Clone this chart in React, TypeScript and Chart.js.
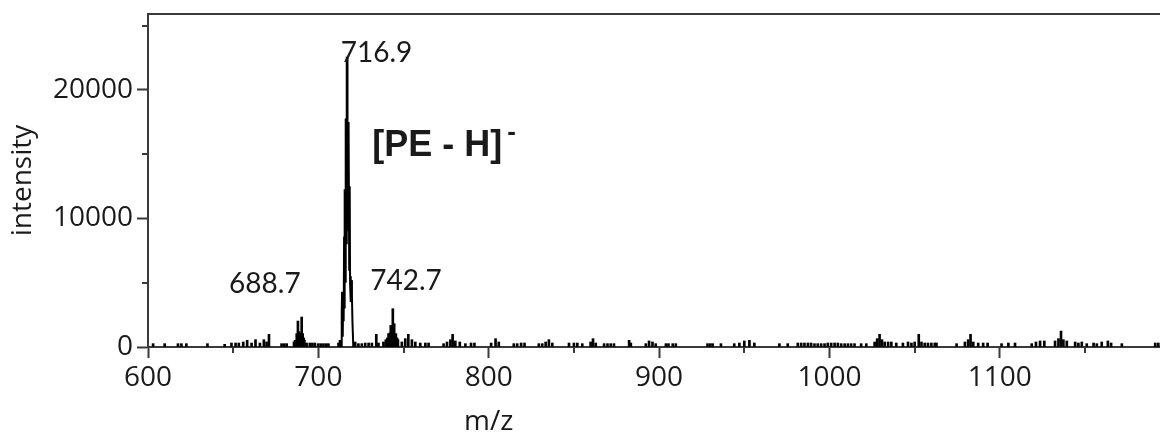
import React, { useEffect, useRef } from 'react';
import { Chart, registerables } from 'chart.js';

Chart.register(...registerables);

// ---- axis ranges and ticks ----
const xRange = [600, 1194];
const yRange = [0, 25900];
const xMajorTicks = [600, 700, 800, 900, 1000, 1100];
const xMinorTicks = [650, 750, 850, 950, 1050, 1150];
const yMajorTicks = [0, 10000, 20000];
const yMinorTicks = [5000, 15000, 25000];
const xTitle = 'm/z';
const yTitle = 'intensity';

// ---- main [PE - H]- peak profile ----
const peakMz = [713.4, 713.7, 713.9, 714.2, 714.4, 714.6, 714.8, 714.9, 715.1, 715.3, 715.4, 715.6, 715.8, 715.9, 716.2, 716.4, 716.5, 716.8, 717.0, 717.1, 717.4, 717.6, 717.9, 718.1, 718.4, 718.6, 718.9, 719.1, 719.4, 719.7, 720.0, 720.5];
const peakIntensity = [0, 2500, 4300, 4300, 800, 4300, 4300, 2000, 8600, 8600, 3000, 12200, 12200, 5000, 17700, 17700, 8000, 22500, 22500, 14000, 17500, 9000, 17000, 6000, 12500, 5000, 5500, 3500, 5200, 4000, 2000, 0];

// ---- other peaks and baseline noise (sticks) ----
const noiseMz = [
  603, 609.8, 617.6, 619.6, 622.5, 634.9, 645, 649, 651.4, 653.3, 655.9, 658.2, 660.8, 663.1, 665.7, 668, 669.6, 671,
  678.4, 680, 681.4, 685.7, 686.3, 687.3, 688, 688.5, 688.8, 689.4, 690.2, 690.8, 691.4, 691.8, 693.1, 695, 696.5, 698,
  700, 701.5, 703, 704.5, 705.9, 711.8, 712.7, 721.6, 723.5, 725.5, 727.5, 729.5, 731.4, 734, 735.3,
  738.2, 739.6, 740.5, 741.2, 742, 742.5, 743.1, 743.7, 744.5, 745.5, 746.2, 746.7, 749, 751, 752.8, 754.9, 756.9,
  759.8, 762.8, 764.7, 773.5, 775.5, 777.5, 778.8, 780.4, 783, 786.3, 789.6, 791.6, 801.4, 804, 805.9, 814.7, 816.7,
  819, 821, 829.4, 831.4, 833.4, 835.3, 837.3, 847.1, 850, 852, 854.9, 859.8, 861.2, 862.8, 867.7, 869.7, 871.6, 873.5,
  882.4, 883.4, 892.2, 894.1, 896.1, 898, 904, 905.5, 908, 909.8, 928.4, 930, 931.4, 936.3, 944.1, 947.1, 950, 953,
  955.9, 970.6, 975.5, 981.4, 983.4, 985.3, 987.3, 989.2, 991.2, 993.1, 995.1, 997.1, 999, 1001, 1003, 1004.9, 1006.9,
  1008.9, 1010.8, 1012.7, 1014.7, 1018.6, 1021.6, 1026.5, 1028, 1029.4, 1030.8, 1032.4, 1034.4, 1036.3, 1039.2, 1043.1,
  1046.1, 1048.1, 1050, 1052.4, 1054, 1055.9, 1057.8, 1059.8, 1061.8, 1062.8, 1074.6, 1079.5, 1081.4, 1082.8, 1084.4,
  1087.3, 1090.2, 1092.8, 1101, 1105, 1108.9, 1118.7, 1121.2, 1123.6, 1126.1, 1132.4, 1134.4, 1135.9, 1137.3, 1139.3,
  1144.2, 1146.1, 1148.1, 1151, 1155, 1156.9, 1159.8, 1163.4, 1165.3, 1171.6, 1191.2, 1193
];
const noiseIntensity = [
  260, 260, 260, 260, 260, 260, 210, 310, 310, 310, 390, 520, 310, 570, 310, 570, 390, 985,
  260, 260, 260, 390, 520, 1040, 2020, 1200, 1100, 1040, 2330, 1040, 700, 520, 310, 310, 310, 310,
  260, 260, 260, 260, 260, 310, 520, 390, 260, 260, 310, 310, 310, 985, 310,
  390, 570, 700, 1040, 1100, 1680, 1500, 2980, 1810, 1040, 700, 570, 390, 650, 985, 570, 390,
  310, 310, 310, 260, 390, 570, 985, 470, 390, 260, 310, 310, 310, 650, 390, 260, 260,
  310, 310, 260, 260, 390, 570, 310, 310, 310, 310, 260, 390, 650, 310, 260, 260, 260, 260,
  520, 310, 260, 470, 390, 260, 260, 260, 260, 260, 260, 260, 260, 260, 260, 310, 470, 520,
  310, 260, 260, 310, 310, 310, 310, 310, 260, 260, 260, 260, 310, 310, 310, 310, 260,
  260, 260, 260, 260, 260, 260, 390, 650, 985, 570, 390, 390, 390, 310, 310,
  390, 310, 390, 985, 390, 310, 310, 310, 310, 310, 260, 390, 570, 985, 390,
  310, 310, 310, 260, 310, 310, 260, 390, 470, 470, 470, 650, 1240, 570, 470,
  390, 310, 390, 260, 310, 260, 390, 470, 310, 260, 310, 310
];

// ---- peak annotations (anchor in data units) ----
const annotationTexts = ['716.9', '688.7', '742.7'];
const annotationMz = [713.1, 647.6, 730.4];
const annotationIntensity = [22850, 4900, 5130];
const ionLabel = '[PE - H]';
const ionCharge = '-';
const ionLabelMz = 731.6;
const ionLabelIntensity = 15600;

const AXIS_COLOR = '#3a3a3a';
const TEXT_COLOR = '#1a1a1a';
const TICK_FONT = '"Open Sans", sans-serif';

const decorPlugin = {
  id: 'decor',
  afterDraw(chart: any) {
    const { ctx, chartArea } = chart;
    const x = chart.scales.x;
    const y = chart.scales.y;
    ctx.save();
    // top frame line
    ctx.strokeStyle = AXIS_COLOR;
    ctx.lineWidth = 2;
    ctx.beginPath();
    ctx.moveTo(chartArea.left - 1, chartArea.top);
    ctx.lineTo(chartArea.right, chartArea.top);
    // minor ticks
    for (const v of xMinorTicks) {
      const px = Math.round(x.getPixelForValue(v));
      ctx.moveTo(px, chartArea.bottom);
      ctx.lineTo(px, chartArea.bottom + 6);
    }
    for (const v of yMinorTicks) {
      const py = Math.round(y.getPixelForValue(v));
      ctx.moveTo(chartArea.left, py);
      ctx.lineTo(chartArea.left - 6, py);
    }
    ctx.stroke();

    // axis titles
    ctx.fillStyle = TEXT_COLOR;
    ctx.font = '28px ' + TICK_FONT;
    ctx.textAlign = 'center';
    ctx.textBaseline = 'middle';
    ctx.fillText(xTitle, x.getPixelForValue(800), chartArea.bottom + 75);
    ctx.save();
    ctx.translate(23, (chartArea.top + chartArea.bottom) / 2);
    ctx.rotate(-Math.PI / 2);
    ctx.fillText(yTitle, 0, 0);
    ctx.restore();

    // peak annotations
    ctx.font = '28px Lato, sans-serif';
    ctx.textAlign = 'left';
    ctx.textBaseline = 'middle';
    annotationTexts.forEach((t, i) => {
      ctx.fillText(t, x.getPixelForValue(annotationMz[i]), y.getPixelForValue(annotationIntensity[i]));
    });

    // ion label
    ctx.font = 'bold 36px "Liberation Sans", Arial, sans-serif';
    const lx = x.getPixelForValue(ionLabelMz);
    const ly = y.getPixelForValue(ionLabelIntensity);
    ctx.fillText(ionLabel, lx, ly);
    const w = ctx.measureText(ionLabel).width;
    ctx.font = 'bold 26px "Liberation Sans", Arial, sans-serif';
    ctx.fillText(ionCharge, lx + w + 5, ly - 14);
    ctx.restore();
  },
};

export default function App() {
  const canvasRef = useRef<HTMLCanvasElement | null>(null);

  useEffect(() => {
    const canvas = canvasRef.current;
    if (!canvas) return;
    const chart = new Chart(canvas, {
      type: 'bar',
      data: {
        datasets: [
          {
            type: 'line',
            data: peakMz.map((m, i) => ({ x: m, y: peakIntensity[i] })),
            borderColor: '#000',
            borderWidth: 2,
            pointRadius: 0,
            tension: 0,
            fill: false,
          } as any,
          {
            type: 'bar',
            data: noiseMz.map((m, i) => ({ x: m, y: noiseIntensity[i] })),
            backgroundColor: '#000',
            borderWidth: 0,
            barThickness: 2,
          } as any,
        ],
      },
      options: {
        animation: false,
        responsive: false,
        events: [],
        layout: { padding: { top: 14, right: 0, left: 0, bottom: 0 } },
        plugins: {
          legend: { display: false },
          tooltip: { enabled: false },
          title: { display: false },
        },
        scales: {
          x: {
            type: 'linear',
            min: xRange[0],
            max: xRange[1],
            offset: false,
            afterBuildTicks: (scale: any) => {
              scale.ticks = xMajorTicks.map((v) => ({ value: v }));
            },
            afterFit: (scale: any) => {
              scale.height = 87;
              scale.paddingLeft = 0;
              scale.paddingRight = 0;
            },
            border: { display: true, color: AXIS_COLOR, width: 2 },
            grid: {
              display: true,
              offset: false,
              drawOnChartArea: false,
              drawTicks: true,
              tickLength: 11,
              tickWidth: 2,
              tickColor: AXIS_COLOR,
            },
            ticks: {
              autoSkip: false,
              maxRotation: 0,
              padding: 3,
              color: TEXT_COLOR,
              font: { family: TICK_FONT, size: 28 },
              callback: (v: any) => String(v),
            },
          },
          y: {
            type: 'linear',
            min: yRange[0],
            max: yRange[1],
            afterBuildTicks: (scale: any) => {
              scale.ticks = yMajorTicks.map((v) => ({ value: v }));
            },
            afterFit: (scale: any) => {
              scale.width = 148;
              scale.paddingTop = 0;
              scale.paddingBottom = 0;
            },
            border: { display: true, color: AXIS_COLOR, width: 2 },
            grid: {
              display: true,
              drawOnChartArea: false,
              drawTicks: true,
              tickLength: 11,
              tickWidth: 2,
              tickColor: AXIS_COLOR,
            },
            ticks: {
              padding: 4,
              color: TEXT_COLOR,
              font: { family: TICK_FONT, size: 28 },
              callback: (v: any) => String(v),
            },
          },
        },
      } as any,
      plugins: [decorPlugin],
    });
    return () => chart.destroy();
  }, []);

  return (
    <div style={{ position: 'fixed', left: 0, top: 0, width: 1160, height: 434, background: '#fff' }}>
      <canvas ref={canvasRef} width={1160} height={434} style={{ display: 'block' }} />
    </div>
  );
}
